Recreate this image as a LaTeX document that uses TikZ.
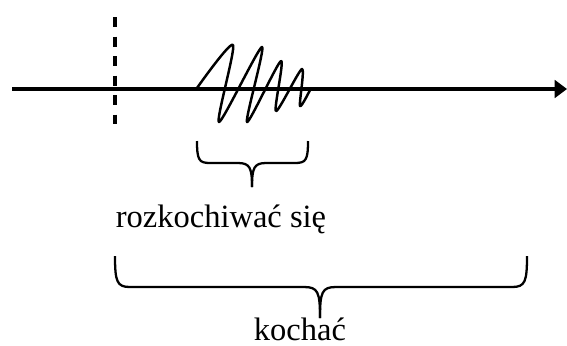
\documentclass[tikz,border=0pt]{standalone}
\usepackage{fontspec}
\setmainfont{Liberation Serif}
\usetikzlibrary{arrows.meta,positioning,calc}

\tikzset{
  axis/.style={line width=2pt,-{Triangle[length=7pt,width=10pt]}},
  cut/.style={line width=1.8pt,dash pattern=on 5.7pt off 5.4pt},
  wave/.style={line width=1.4pt,line join=round},
  curly/.style={line width=1.3pt},
  word/.style={font=\fontsize{18.5}{21}\selectfont,inner sep=0pt,anchor=base}
}

\begin{document}
\begin{tikzpicture}[x=0.02cm,y=-0.02cm]
\useasboundingbox (0,0) rectangle (567,345);
% time axis
\coordinate (start) at (12,89);
\coordinate (end) at (567,89);
\draw[axis] (start)--(end);
\draw[cut] (115,17)--(115,124);
% the scribble
\draw[wave] plot[smooth,tension=0.45] coordinates {(197,88) (233,45) (219,122) (262,47) (247,122) (281,61) (276,111) (302,69) (300,106) (311,88)};
% small brace
\coordinate (smalltip) at (252,187);
\draw[curly] (197,141) .. controls (197,160) and (199,163) .. (210,163) -- (238,163)
  .. controls (250,163) and (252,168) .. (smalltip);
\draw[curly] (308,141) .. controls (308,160) and (306,163) .. (295,163) -- (266,163)
  .. controls (254,163) and (252,168) .. (smalltip);
\node[word] (rozk) at (221,227) {rozkochiwać się};
% big brace
\coordinate (bigtip) at (320,318);
\draw[curly] (115,256) .. controls (115,282) and (117,287) .. (130,287) -- (304,287)
  .. controls (318,287) and (320,292) .. (bigtip);
\draw[curly] (527,256) .. controls (527,282) and (525,287) .. (512,287) -- (336,287)
  .. controls (322,287) and (320,292) .. (bigtip);
\node[word] (kochac) at (300,340) {kochać};
\end{tikzpicture}
\end{document}
